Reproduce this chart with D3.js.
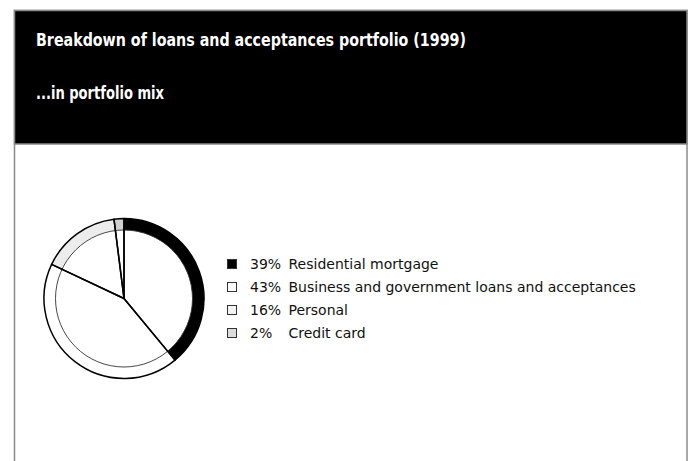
<!DOCTYPE html>
<html>
<head>
<meta charset="utf-8">
<script src="https://cdn.jsdelivr.net/npm/d3@7"></script>
<style>
  html, body { margin: 0; padding: 0; background: #fff; }
  svg { display: block; }
</style>
</head>
<body>
<svg id="chart" width="695" height="461"></svg>
<script>
// Portfolio mix, 1999 (% of loans and acceptances)
const categories = ["Residential mortgage", "Business and government loans and acceptances", "Personal", "Credit card"];
const shares = [39, 43, 16, 2];
const ringColors = ["#000000", "#ffffff", "#ececec", "#cfcfcf"];
const swatchColors = ["#000000", "#ffffff", "#f3f3f3", "#dcdcdc"];
const titleText = "Breakdown of loans and acceptances portfolio (1999)";
const subtitleText = "...in portfolio mix";

const svg = d3.select("#chart");

// Frame and black header band
svg.append("rect")
  .attr("x", 14.5).attr("y", 10.5).attr("width", 672.5).attr("height", 470)
  .attr("fill", "#fff").attr("stroke", "#8a8a8a").attr("stroke-width", 1.5);
svg.append("rect")
  .attr("x", 14.5).attr("y", 10.5).attr("width", 672.5).attr("height", 133.5)
  .attr("fill", "#000").attr("stroke", "#8a8a8a").attr("stroke-width", 1.5);

const headFont = "'Liberation Sans Narrow', 'DejaVu Sans Condensed', 'Liberation Sans', sans-serif";
svg.append("text")
  .attr("x", 36).attr("y", 45.5)
  .attr("font-family", headFont).attr("font-weight", "bold").attr("font-size", 18)
  .attr("fill", "#fff")
  .attr("textLength", 430).attr("lengthAdjust", "spacingAndGlyphs")
  .text(titleText);
svg.append("text")
  .attr("x", 36).attr("y", 98.5)
  .attr("font-family", headFont).attr("font-weight", "bold").attr("font-size", 18)
  .attr("fill", "#fff")
  .attr("textLength", 128).attr("lengthAdjust", "spacingAndGlyphs")
  .text(subtitleText);

// Pie: coloured outer ring, white wedges inside
const cx = 124, cy = 298.5, outerR = 80, ringR = 68.5;
const pie = d3.pie().sort(null).value(d => d)(shares);
const g = svg.append("g").attr("transform", `translate(${cx},${cy})`);

const ringArc = d3.arc().innerRadius(ringR).outerRadius(outerR);
const wedgeArc = d3.arc().innerRadius(0).outerRadius(outerR);

g.selectAll("path.ring").data(pie).join("path")
  .attr("class", "ring")
  .attr("d", ringArc)
  .attr("fill", (d, i) => ringColors[i]);

g.append("circle").attr("r", ringR)
  .attr("fill", "none").attr("stroke", "#333").attr("stroke-width", 0.9);

g.selectAll("path.wedge").data(pie).join("path")
  .attr("class", "wedge")
  .attr("d", wedgeArc)
  .attr("fill", "none")
  .attr("stroke", "#000").attr("stroke-width", 1.5)
  .attr("stroke-linejoin", "round");

// Legend
const legendFont = "'DejaVu Sans', 'Liberation Sans', sans-serif";
const rowY = d3.scaleLinear().domain([0, 1]).range([264, 287]);
const legend = svg.append("g");
categories.forEach((name, i) => {
  const y = rowY(i);
  legend.append("rect")
    .attr("x", 227.5).attr("y", y - 4.5).attr("width", 9).attr("height", 9)
    .attr("fill", swatchColors[i]).attr("stroke", "#333").attr("stroke-width", 1);
  legend.append("text")
    .attr("x", 250).attr("y", y + 5)
    .attr("font-family", legendFont).attr("font-size", 14).attr("fill", "#111")
    .text(shares[i] + "%");
  legend.append("text")
    .attr("x", 288.5).attr("y", y + 5)
    .attr("font-family", legendFont).attr("font-size", 14).attr("fill", "#111")
    .text(name);
});
</script>
</body>
</html>
